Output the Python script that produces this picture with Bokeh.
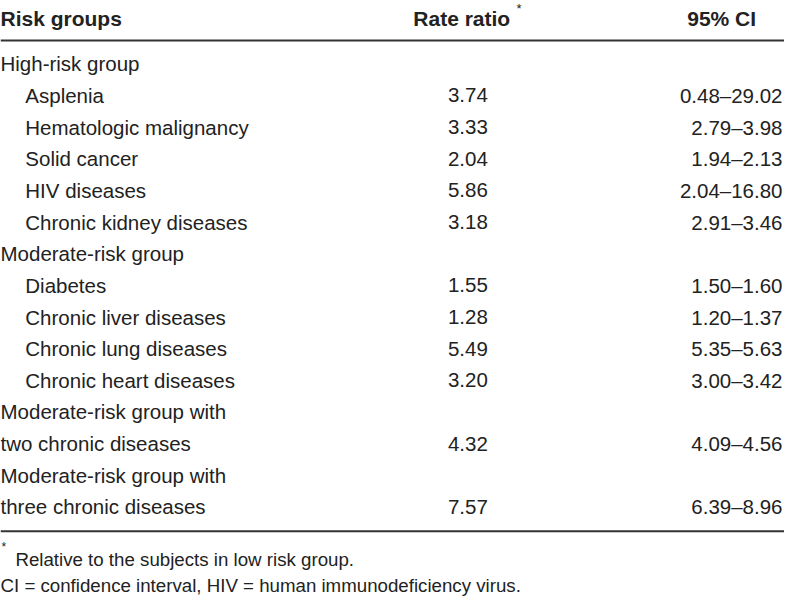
from bokeh.plotting import figure
from bokeh.models import ColumnDataSource, Range1d
from bokeh.core.properties import value
from bokeh.embed import file_html
from bokeh.resources import INLINE

# ---- data ----
row_labels = ["High-risk group", "Asplenia", "Hematologic malignancy", "Solid cancer",
              "HIV diseases", "Chronic kidney diseases", "Moderate-risk group",
              "Diabetes", "Chronic liver diseases", "Chronic lung diseases",
              "Chronic heart diseases", "Moderate-risk group with", "two chronic diseases",
              "Moderate-risk group with", "three chronic diseases"]
row_indent = [0, 1, 1, 1, 1, 1, 0, 1, 1, 1, 1, 0, 0, 0, 0]
rate_ratio = ["", "3.74", "3.33", "2.04", "5.86", "3.18", "", "1.55", "1.28", "5.49",
              "3.20", "", "4.32", "", "7.57"]
ci_95 = ["", "0.48–29.02", "2.79–3.98", "1.94–2.13", "2.04–16.80", "2.91–3.46", "",
         "1.50–1.60", "1.20–1.37", "5.35–5.63", "3.00–3.42", "", "4.09–4.56", "",
         "6.39–8.96"]
headers = ["Risk groups", "Rate ratio", "95% CI"]
footnotes = ["Relative to the subjects in low risk group.",
             "CI = confidence interval, HIV = human immunodeficiency virus."]

FONT = "Liberation Sans"
COLOR = "#222222"
FS = "20.5px"

p = figure(width=784, height=597, x_range=Range1d(0, 790), y_range=Range1d(613, 0),
           toolbar_location=None, output_backend="svg", min_border=0,
           x_axis_type=None, y_axis_type=None)
p.grid.visible = False
p.outline_line_color = None
p.background_fill_color = "white"
p.border_fill_color = "white"

y0, dy = 65.0, 32.5
ys = [y0 + dy * i for i in range(len(row_labels))]
xs = [0 + 25 * ind for ind in row_indent]

src = ColumnDataSource(dict(x=xs, y=ys, label=row_labels, rate=rate_ratio, ci=ci_95))

p.text(x="x", y="y", text="label", source=src, text_font=value(FONT),
       text_font_size=FS, text_color=COLOR, text_baseline="middle", text_align="left")
p.text(x=471, y="y", text="rate", source=src, text_font=value(FONT),
       text_font_size=FS, text_color=COLOR, text_baseline="middle", text_align="center")
p.text(x=788, y="y", text="ci", source=src, text_font=value(FONT),
       text_font_size=FS, text_color=COLOR, text_baseline="middle", text_align="right")

# headers
p.text(x=[0, 416, 692], y=[18, 18, 18], text=headers, text_font=value(FONT),
       text_font_size="21px", text_font_style="bold", text_color=COLOR,
       text_baseline="middle", text_align="left")
p.text(x=[520], y=[8], text=["*"], text_font=value(FONT), text_font_size="13px",
       text_color=COLOR, text_baseline="middle", text_align="left")

# rules
p.segment(x0=[0, 0], y0=[41, 545], x1=[790, 790], y1=[41, 545],
          line_color="#333333", line_width=2)

# footnotes
p.text(x=[1], y=[561], text=["*"], text_font=value(FONT), text_font_size="12px",
       text_color=COLOR, text_baseline="middle", text_align="left")
p.text(x=[15, 0], y=[574, 601], text=footnotes, text_font=value(FONT),
       text_font_size="18.7px", text_color=COLOR, text_baseline="middle", text_align="left")

open("out.html", "w").write(file_html(p, INLINE))
